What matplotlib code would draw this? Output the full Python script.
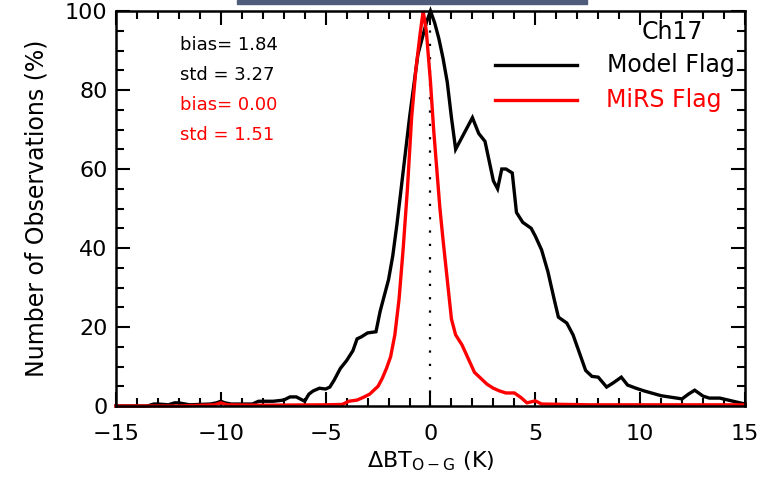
import matplotlib
matplotlib.use("Agg")
import matplotlib.pyplot as plt
from matplotlib.patches import Rectangle
from matplotlib.ticker import MultipleLocator

# histogram of O-G departures
model_x = [-15, -13.5, -13.2, -13.0, -12.5, -12.2, -12.0, -11.5, -10.5, -10.2, -10.0, -9.8,
           -9.5, -8.5, -8.2, -7.5, -7.0, -6.7, -6.4, -6.0, -5.8, -5.6, -5.3, -5.0, -4.8,
           -4.6, -4.3, -4.0, -3.7, -3.5, -3.3, -3.0, -2.6, -2.4, -2.2, -2.0, -1.8, -1.6,
           -1.4, -1.2, -1.0, -0.8, -0.6, -0.4, -0.2, 0.0, 0.2, 0.4, 0.6, 0.8, 1.0, 1.2,
           1.5, 1.8, 2.0, 2.3, 2.6, 2.8, 3.0, 3.2, 3.4, 3.6, 3.9, 4.1, 4.4, 4.8, 5.0,
           5.3, 5.6, 5.9, 6.1, 6.5, 6.8, 7.1, 7.4, 7.7, 8.0, 8.4, 8.7, 9.1, 9.4, 9.8,
           10.2, 10.6, 11.0, 11.5, 12.0, 12.3, 12.6, 13.0, 13.3, 13.8, 14.2, 14.6, 15.0]
model_y = [0, 0, 0.5, 0.5, 0.3, 0.8, 0.8, 0.3, 0.5, 0.8, 1.2, 0.8,
           0.5, 0.5, 1.2, 1.2, 1.5, 2.3, 2.3, 1.2, 3.0, 3.8, 4.5, 4.3, 4.8,
           6.5, 9.5, 11.5, 14, 17, 17.5, 18.5, 18.8, 24, 28, 32, 38, 46,
           55, 64, 73, 81, 89, 93, 97, 100, 97, 93, 88, 82, 73, 65,
           68, 71, 73, 69, 67, 62, 57, 55, 60, 60, 59, 49, 46.5, 45, 43,
           39.5, 34, 27, 22.5, 21, 18, 13.5, 9, 7.5, 7.3, 4.8, 5.8, 7.3, 5.3, 4.5,
           3.8, 3.2, 2.6, 2.2, 1.8, 3, 4, 2.5, 2, 2, 1.5, 1, 0.5]

mirs_x = [-15, -12, -10.3, -10.0, -9.7, -8, -5, -4.2, -3.9, -3.5, -3.2, -2.9, -2.7, -2.5,
          -2.3, -2.1, -1.9, -1.7, -1.5, -1.3, -1.1, -0.9, -0.7, -0.5, -0.35, -0.2, 0.0,
          0.15, 0.3, 0.45, 0.6, 0.8, 1.0, 1.2, 1.5, 1.8, 2.1, 2.4, 2.7, 3.0, 3.3, 3.6,
          4.0, 4.3, 4.6, 5.0, 5.3, 7.6, 15]
mirs_y = [0, 0, 0.3, 0.8, 0.3, 0.2, 0.3, 0.4, 1.2, 1.5, 2.2, 3.0, 4.0, 5.0,
          7.0, 9.5, 12.5, 18, 27, 40, 55, 73, 85, 94, 100, 95, 82,
          70, 60, 50, 42, 32, 22, 18, 15.5, 12, 8.5, 7, 5.5, 4.5, 3.8, 3.3,
          3.3, 2.2, 0.8, 1.3, 0.5, 0.3, 0.3]

stats_text = ["bias= 1.84", "std = 3.27", "bias= 0.00", "std = 1.51"]
stats_color = ["black", "black", "red", "red"]

fig = plt.figure(figsize=(7.69, 4.79), dpi=100)
ax = fig.add_axes([0.1508, 0.1524, 0.8180, 0.8246])

# slider bar at the very top of the screenshot
fig.patches.append(Rectangle((237 / 769, 1 - 3.5 / 479), 350 / 769, 3.5 / 479,
                             transform=fig.transFigure, color="#4f5d7a", zorder=5))

ax.plot([0, 0], [0, 100], color="black", lw=1.6, dashes=(1, 5))
ax.plot(model_x, model_y, color="black", lw=2.4, clip_on=False, solid_joinstyle="miter")
ax.plot(mirs_x, mirs_y, color="red", lw=2.4, clip_on=False, solid_joinstyle="miter")

ax.set_xlim(-15, 15)
ax.set_ylim(0, 100)
ax.xaxis.set_major_locator(MultipleLocator(5))
ax.xaxis.set_minor_locator(MultipleLocator(1))
ax.yaxis.set_major_locator(MultipleLocator(20))
ax.yaxis.set_minor_locator(MultipleLocator(5))
ax.tick_params(which="both", direction="in", top=True, right=True, width=1.5,
               labelsize=16)
ax.tick_params(axis="x", which="major", pad=13)
ax.tick_params(axis="y", which="major", pad=6)
ax.tick_params(which="major", length=10)
ax.tick_params(which="minor", length=6)
for s in ax.spines.values():
    s.set_linewidth(1.8)

ax.set_ylabel("Number of Observations (%)", fontsize=17, labelpad=12)
ax.set_xlabel(r"$\Delta$BT$_{\mathrm{O-G}}$ (K)", fontsize=16, labelpad=4)

for i, (t, c) in enumerate(zip(stats_text, stats_color)):
    ax.text(0.102, 0.914 - i * 0.076, t, color=c, fontsize=13, transform=ax.transAxes,
            va="center", ha="left")

# legend drawn by hand like the IDL original
ax.text(0.933, 0.947, "Ch17", fontsize=17, transform=ax.transAxes, ha="right", va="center")
ax.plot([0.603, 0.733], [0.863, 0.863], color="black", lw=2.4, transform=ax.transAxes)
ax.plot([0.603, 0.733], [0.775, 0.775], color="red", lw=2.4, transform=ax.transAxes)
ax.text(0.984, 0.863, "Model Flag", fontsize=17, transform=ax.transAxes, ha="right",
        va="center")
ax.text(0.963, 0.775, "MiRS Flag", fontsize=17, color="red", transform=ax.transAxes,
        ha="right", va="center")

fig.savefig("out.png", dpi=100)
